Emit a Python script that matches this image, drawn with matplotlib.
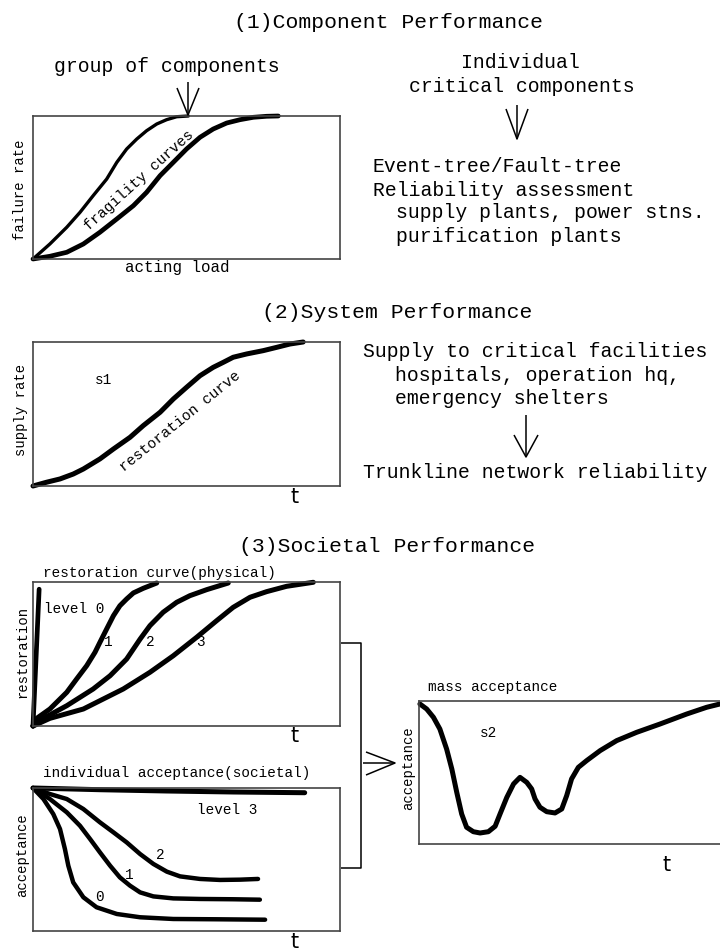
import matplotlib
matplotlib.use("Agg")
import matplotlib.pyplot as plt

W, H = 720, 953

# ---------------- data (normalized box coordinates) ----------------
frag_a_x = [0.0, 0.055, 0.11, 0.153, 0.196, 0.24, 0.273, 0.305, 0.338, 0.37, 0.403, 0.435, 0.468, 0.506]
frag_a_y = [0.0, 0.105, 0.222, 0.326, 0.443, 0.559, 0.676, 0.769, 0.839, 0.897, 0.944, 0.974, 0.995, 1.0]
frag_b_x = [0.0, 0.055, 0.11, 0.164, 0.218, 0.273, 0.327, 0.37, 0.414, 0.457, 0.5, 0.544, 0.587,
            0.631, 0.674, 0.718, 0.761, 0.799]
frag_b_y = [0.0, 0.019, 0.047, 0.105, 0.187, 0.28, 0.373, 0.466, 0.583, 0.676, 0.769, 0.851, 0.909,
            0.951, 0.974, 0.991, 0.998, 1.0]

sys_x = [0.0, 0.044, 0.088, 0.131, 0.164, 0.218, 0.262, 0.316, 0.359, 0.414, 0.457, 0.5, 0.544,
         0.587, 0.62, 0.652, 0.696, 0.75, 0.794, 0.837, 0.88]
sys_y = [0.0, 0.026, 0.049, 0.083, 0.118, 0.188, 0.257, 0.338, 0.419, 0.512, 0.604, 0.685, 0.766,
         0.824, 0.859, 0.894, 0.917, 0.94, 0.963, 0.986, 1.0]

rest0_x = [0.0, 0.02]
rest0_y = [0.0, 0.95]
rest1_x = [0.0, 0.012, 0.055, 0.11, 0.142, 0.175, 0.202, 0.218, 0.24, 0.262, 0.283, 0.305, 0.327, 0.359, 0.403]
rest1_y = [0.0, 0.053, 0.118, 0.234, 0.326, 0.419, 0.512, 0.581, 0.674, 0.766, 0.835, 0.882, 0.924, 0.956, 0.993]
rest2_x = [0.0, 0.034, 0.11, 0.196, 0.251, 0.305, 0.349, 0.381, 0.424, 0.468, 0.511, 0.566, 0.636]
rest2_y = [0.0, 0.053, 0.141, 0.257, 0.349, 0.465, 0.604, 0.697, 0.79, 0.859, 0.905, 0.947, 0.993]
rest3_x = [0.0, 0.055, 0.164, 0.294, 0.381, 0.457, 0.533, 0.598, 0.652, 0.707, 0.761, 0.826, 0.913]
rest3_y = [0.0, 0.053, 0.118, 0.257, 0.373, 0.488, 0.616, 0.731, 0.824, 0.894, 0.933, 0.97, 0.998]

acc3_x = [0.0, 0.218, 0.436, 0.652, 0.885]
acc3_y = [1.0, 0.988, 0.979, 0.972, 0.967]
acc2_x = [0.0, 0.055, 0.11, 0.164, 0.218, 0.262, 0.305, 0.349, 0.392, 0.436, 0.479, 0.544, 0.609, 0.674, 0.733]
acc2_y = [1.0, 0.958, 0.923, 0.853, 0.76, 0.69, 0.62, 0.538, 0.469, 0.415, 0.382, 0.364, 0.357, 0.359, 0.364]
acc1_x = [0.0, 0.055, 0.11, 0.153, 0.186, 0.218, 0.251, 0.283, 0.316, 0.349, 0.392, 0.457, 0.544, 0.652, 0.739]
acc1_y = [1.0, 0.923, 0.83, 0.736, 0.643, 0.55, 0.457, 0.375, 0.317, 0.27, 0.242, 0.228, 0.224, 0.222, 0.219]
acc0_x = [0.0, 0.034, 0.066, 0.088, 0.104, 0.115, 0.131, 0.164, 0.207, 0.273, 0.349, 0.457, 0.598, 0.756]
acc0_y = [1.0, 0.923, 0.818, 0.713, 0.573, 0.457, 0.34, 0.236, 0.166, 0.119, 0.096, 0.084, 0.082, 0.079]

mass_x = [0.003, 0.025, 0.047, 0.068, 0.09, 0.107, 0.123, 0.139, 0.155, 0.177, 0.199, 0.226, 0.248,
          0.264, 0.286, 0.308, 0.329, 0.351, 0.367, 0.378, 0.394, 0.416, 0.443, 0.465, 0.481, 0.497,
          0.519, 0.546, 0.59, 0.644, 0.709, 0.785, 0.872, 0.937, 0.98]
mass_y = [0.979, 0.944, 0.886, 0.804, 0.664, 0.524, 0.361, 0.21, 0.117, 0.086, 0.077, 0.086, 0.124,
          0.21, 0.326, 0.42, 0.466, 0.431, 0.385, 0.315, 0.257, 0.226, 0.217, 0.245, 0.338, 0.455,
          0.536, 0.583, 0.653, 0.723, 0.781, 0.839, 0.909, 0.956, 0.979]

# ---------------- figure ----------------
fig = plt.figure(figsize=(W / 100, H / 100), dpi=100)
fig.patch.set_facecolor("white")

MONO = "Liberation Mono"
SANS = "DejaVu Sans"


def box(l, t, r, b):
    ax = fig.add_axes([l / W, 1 - b / H, (r - l) / W, (b - t) / H])
    ax.set_xlim(0, 1)
    ax.set_ylim(0, 1)
    ax.set_xticks([])
    ax.set_yticks([])
    for s in ax.spines.values():
        s.set_color("#444444")
        s.set_linewidth(1.2)
    return ax


def curve(ax, x, y, lw):
    ax.plot(x, y, color="black", lw=lw, solid_capstyle="round",
            solid_joinstyle="round", clip_on=False)


ax1 = box(33, 117, 340, 260)
curve(ax1, frag_a_x, frag_a_y, 2.4)
curve(ax1, frag_b_x, frag_b_y, 3.4)

ax2 = box(33, 343, 340, 487)
curve(ax2, sys_x, sys_y, 3.6)

ax3 = box(33, 583, 340, 727)
curve(ax3, rest0_x, rest0_y, 3.4)
curve(ax3, rest1_x, rest1_y, 3.6)
curve(ax3, rest2_x, rest2_y, 3.6)
curve(ax3, rest3_x, rest3_y, 3.6)

ax4 = box(33, 789, 340, 932)
curve(ax4, acc3_x, acc3_y, 3.6)
curve(ax4, acc2_x, acc2_y, 3.2)
curve(ax4, acc1_x, acc1_y, 3.2)
curve(ax4, acc0_x, acc0_y, 3.2)

ax5 = box(419, 702, 726, 845)
ax5.spines["right"].set_visible(False)
curve(ax5, mass_x, mass_y, 3.6)

# ---------------- overlay for text and arrows ----------------
ov = fig.add_axes([0, 0, 1, 1], zorder=10)
ov.set_xlim(0, W)
ov.set_ylim(H, 0)
ov.axis("off")
ov.patch.set_visible(False)


def T(x, y, s, size=10.4, ha="center", rot=0, fam=MONO):
    ov.text(x, y, s, fontsize=size, ha=ha, va="center", rotation=rot,
            family=fam, color="black", rotation_mode="anchor")


def L(xs, ys, lw=1.1):
    ov.plot(xs, ys, color="black", lw=lw, solid_capstyle="butt")


def arrow_down(x, y0, y1, half=11, wing=28):
    L([x, x], [y0, y1])
    L([x - half, x, x + half], [y1 - wing, y1, y1 - wing])


# Section 1
T(389, 22, "(1)Component Performance", 15.4)
T(167, 67, "group of components", 14.2)
arrow_down(188, 83, 116, half=11, wing=27)
T(20, 190, "failure rate", 10, rot=90)
T(177, 268, "acting load", 11.4)
T(139, 180, "fragility curves", 10.6, rot=42)

T(520, 62, "Individual", 14.2)
T(522, 87, "critical components", 14.2)
arrow_down(517, 106, 140, half=11, wing=30)
T(373, 167, "Event-tree/Fault-tree", 14.2, ha="left")
T(373, 190, "Reliability assessment", 14.2, ha="left")
T(396, 213, "supply plants, power stns.", 14.2, ha="left")
T(396, 236, "purification plants", 14.2, ha="left")

# Section 2
T(397, 313, "(2)System Performance", 15.4)
T(21, 410, "supply rate", 10, rot=90)
T(103, 380, "s1", 10.4)
T(180, 421, "restoration curve", 10.6, rot=39)
T(295, 497, "t", 15, fam=SANS)
T(363, 352, "Supply to critical facilities", 14.2, ha="left")
T(395, 376, "hospitals, operation hq,", 14.2, ha="left")
T(395, 399, "emergency shelters", 14.2, ha="left")
arrow_down(526, 416, 458, half=12, wing=22)
T(363, 473, "Trunkline network reliability", 14.2, ha="left")

# Section 3
T(387, 547, "(3)Societal Performance", 15.4)
T(43, 573, "restoration curve(physical)", 10.4, ha="left")
T(22, 652, "restoration", 10, rot=90)
T(44, 609, "level 0", 10.4, ha="left")
T(108, 642, "1", 10.4)
T(150, 642, "2", 10.4)
T(200, 642, "3", 10.4)
T(295, 736, "t", 15, fam=SANS)

T(43, 773, "individual acceptance(societal)", 10.4, ha="left")
T(22, 855, "acceptance", 10, rot=90)
T(227, 810, "level 3", 10.4)
T(160, 855, "2", 10.4)
T(129, 875, "1", 10.4)
T(99, 897, "0", 10.4)
T(295, 942, "t", 15, fam=SANS)

# bracket and arrow to mass acceptance
L([341, 361, 361, 341], [644, 644, 869, 869])
L([363, 395], [764, 764])
L([366, 395, 366], [753, 764, 776])

T(428, 687, "mass acceptance", 10.4, ha="left")
T(408, 768, "acceptance", 10, rot=90)
T(488, 733, "s2", 10.4)
T(667, 865, "t", 15, fam=SANS)

fig.savefig("out.png", dpi=100, facecolor="white")
